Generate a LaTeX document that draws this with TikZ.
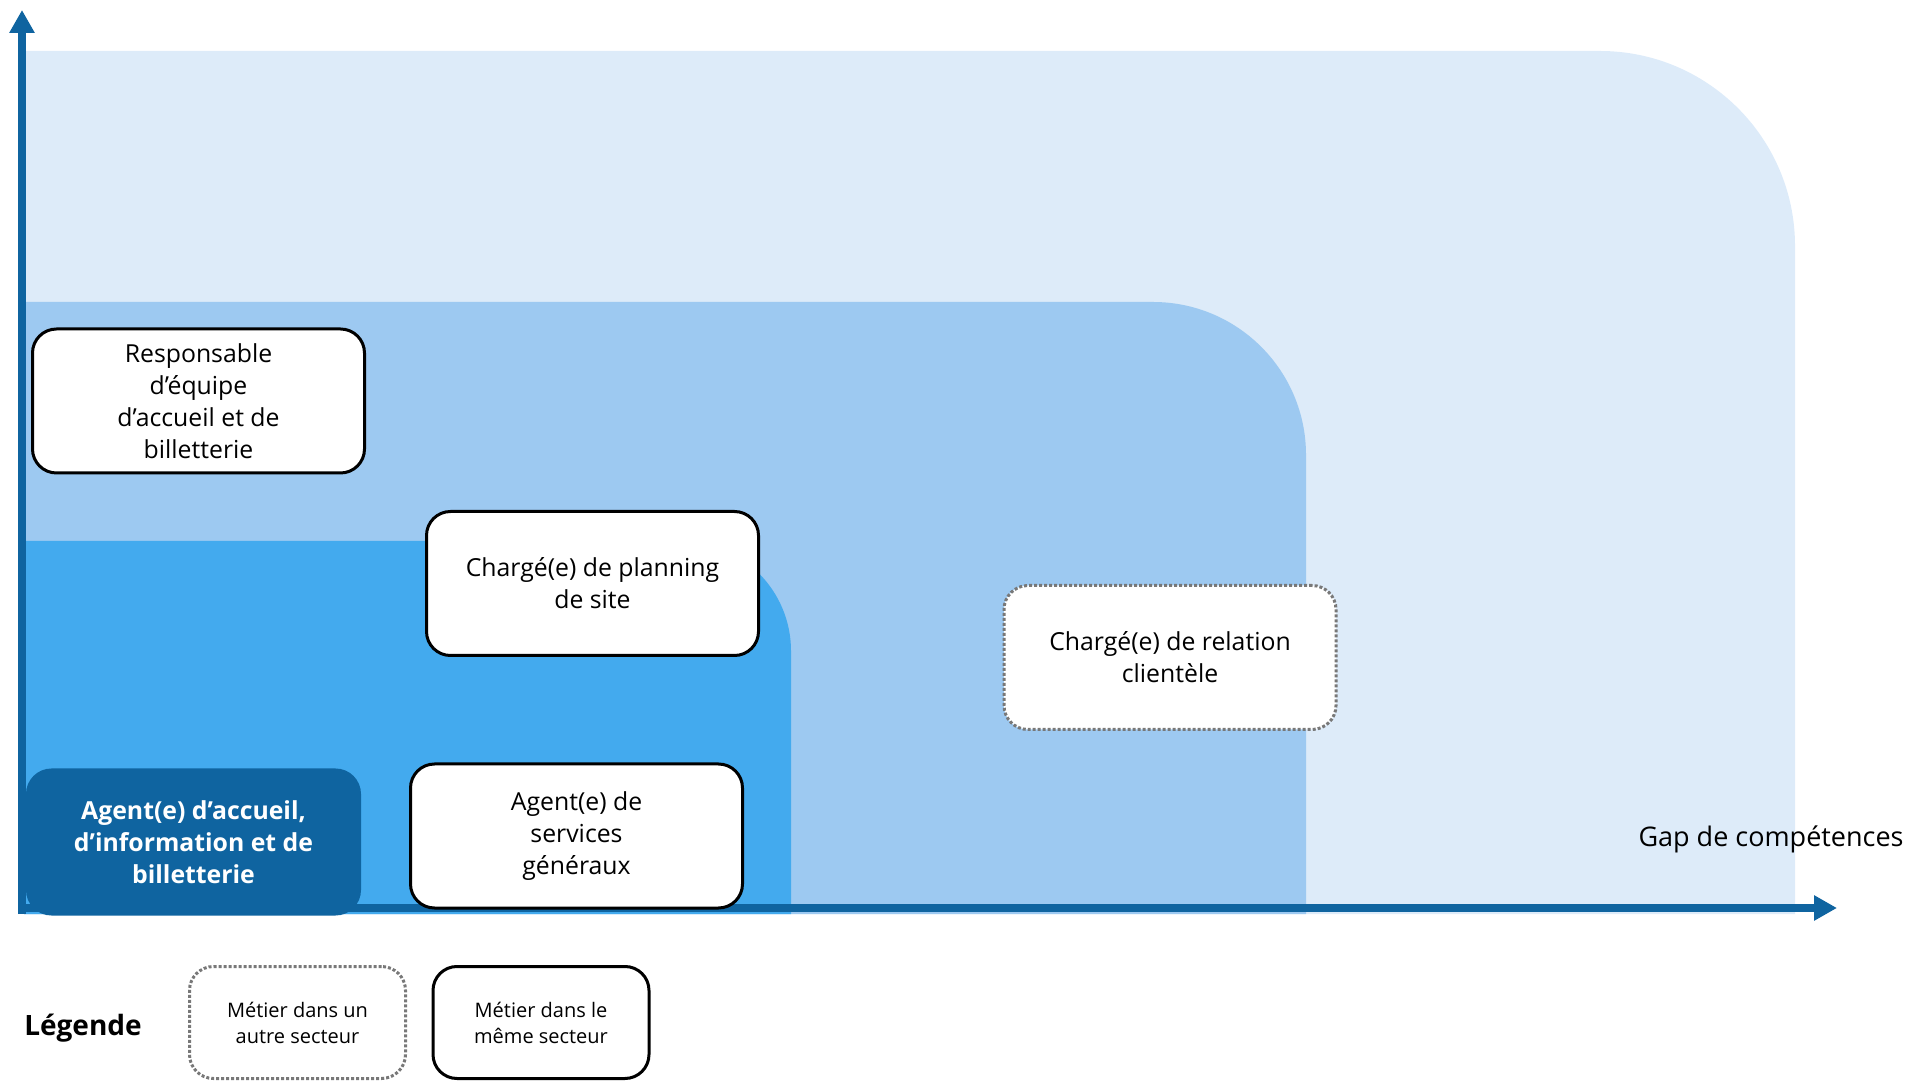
\documentclass[tikz,border=0pt]{standalone}
\usepackage{fontspec}
\setmainfont{Open Sans}
\usetikzlibrary{arrows.meta}
\definecolor{zoneA}{RGB}{221,235,249}
\definecolor{zoneB}{RGB}{157,201,241}
\definecolor{zoneC}{RGB}{67,170,238}
\definecolor{axe}{RGB}{15,100,160}
\definecolor{pointille}{RGB}{120,120,120}
\begin{document}
\begin{tikzpicture}[x=0.5pt,y=0.5pt]
\tikzstyle{every node}=[align=center,font=\fontsize{12.4}{16}\selectfont]
\tikzstyle{metier}=[draw,fill=white,rounded corners=12pt,line width=1.5pt,minimum width=166pt,minimum height=72pt,inner sep=2pt]
\tikzstyle{autre}=[metier,draw=pointille,dash pattern=on 1.5pt off 1pt]
\tikzstyle{legende}=[minimum width=108pt,minimum height=56pt,font=\fontsize{10}{13}\selectfont]
\useasboundingbox (0,0) rectangle (1914,1081);
\fill[zoneA] (24,167) -- (24,1030) -- (1600,1030) arc[start angle=90,end angle=0,radius=97.5pt] -- (1795,167) -- cycle;
\fill[zoneB] (24,167) -- (24,779) -- (1153,779) arc[start angle=90,end angle=0,radius=76.5pt] -- (1306,167) -- cycle;
\fill[zoneC] (24,167) -- (24,540) -- (681,540) arc[start angle=90,end angle=0,radius=55pt] -- (791,167) -- cycle;
\coordinate (o1) at (22,167);
\coordinate (yt) at (22,1071);
\coordinate (o2) at (18,173);
\coordinate (xt) at (1837,173);
\draw[axe,line width=3.8pt,-{Triangle[length=11.5pt,width=12pt]}] (o1) -- (yt);
\draw[axe,line width=3.8pt,-{Triangle[length=11.5pt,width=12pt]}] (o2) -- (xt);
\node[metier] at (198.5,680) (resp) {Responsable\\d’équipe\\d’accueil et de\\billetterie};
\node[metier] at (592.5,497.5) (plan) {Chargé(e) de planning\\de site};
\node[metier] at (576.5,245) (serv) {Agent(e) de\\services\\généraux};
\node[metier,fill=axe,draw=axe,text=white,font=\bfseries\fontsize{12.4}{16}\selectfont] at (193.5,239) (acc) {Agent(e) d’accueil,\\d’information et de\\billetterie};
\node[autre] at (1170,423.5) (rel) {Chargé(e) de relation\\clientèle};
\node[autre,legende] at (297.5,58.5) (leg1) {Métier dans un\\autre secteur};
\node[metier,legende] at (541,58.5) (leg2) {Métier dans le\\même secteur};
\node[font=\bfseries\fontsize{14}{17}\selectfont] at (83,53) (titre) {Légende};
\node[font=\fontsize{13.5}{16}\selectfont] at (1771,242) (gap) {Gap de compétences};
\end{tikzpicture}
\end{document}
